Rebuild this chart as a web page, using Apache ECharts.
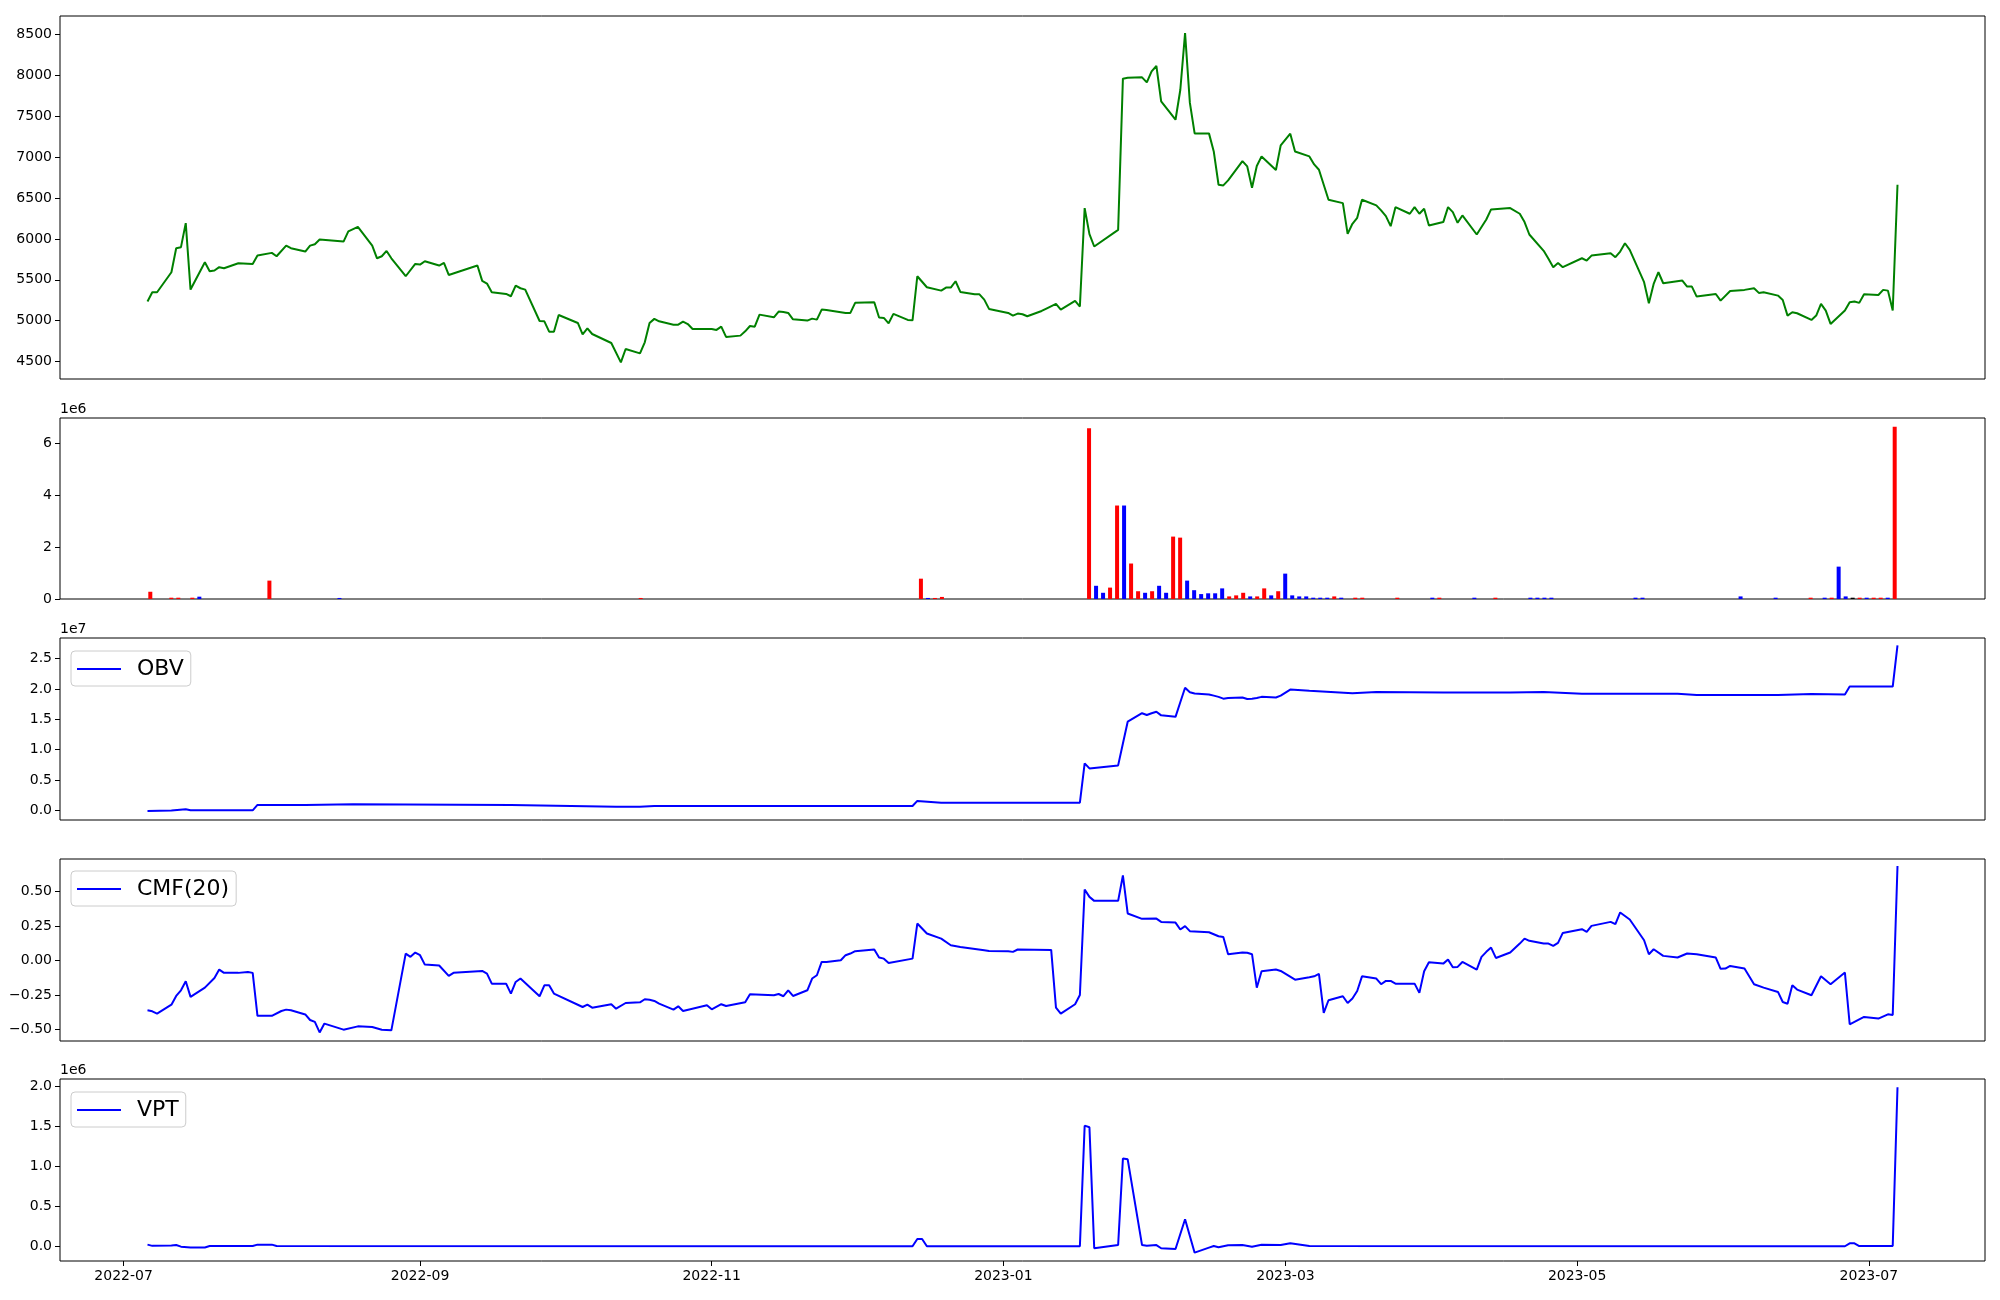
<!DOCTYPE html>
<html><head><meta charset="utf-8">
<script src="https://cdn.jsdelivr.net/npm/echarts@6/dist/echarts.min.js"></script>
<style>html,body{margin:0;padding:0;background:#fff}#c{width:2000px;height:1300px}</style>
</head><body><div id="c"></div>
<script>
// ---------- tick labels ----------
const xTickLabels = ['2022-07','2022-09','2022-11','2023-01','2023-03','2023-05','2023-07'];
const priceTicks = [4500,5000,5500,6000,6500,7000,7500,8000,8500];
const volTicks = [0,2e6,4e6,6e6];
const obvTicks = [0,0.5e7,1e7,1.5e7,2e7,2.5e7];
const cmfTicks = [-0.5,-0.25,0,0.25,0.5];
const vptTicks = [0,0.5e6,1e6,1.5e6,2e6];

// market holidays (KRX) inside the period; weekdays not in this list are trading days
const holidays = ['2022-08-15','2022-09-09','2022-09-12','2022-10-03','2022-10-10','2022-12-30','2023-01-23','2023-01-24','2023-03-01','2023-05-01','2023-05-05','2023-05-29','2023-06-06'];

// ---------- data ----------
const price = [['2022-07-06',5233],['2022-07-07',5347],['2022-07-08',5347],['2022-07-11',5592],['2022-07-12',5886],['2022-07-13',5899],['2022-07-14',6193],['2022-07-15',5380],['2022-07-18',5715],['2022-07-19',5605],['2022-07-20',5613],['2022-07-21',5654],['2022-07-22',5641],['2022-07-25',5702],['2022-07-28',5694],['2022-07-29',5796],['2022-08-01',5829],['2022-08-02',5788],['2022-08-04',5918],['2022-08-05',5886],['2022-08-08',5845],['2022-08-09',5918],['2022-08-10',5935],['2022-08-11',5992],['2022-08-16',5967],['2022-08-17',6093],['2022-08-19',6147],['2022-08-22',5918],['2022-08-23',5763],['2022-08-24',5788],['2022-08-25',5853],['2022-08-26',5763],['2022-08-29',5543],['2022-08-31',5694],['2022-09-01',5686],['2022-09-02',5727],['2022-09-05',5674],['2022-09-06',5706],['2022-09-07',5559],['2022-09-13',5674],['2022-09-14',5486],['2022-09-15',5453],['2022-09-16',5347],['2022-09-19',5326],['2022-09-20',5298],['2022-09-21',5428],['2022-09-22',5396],['2022-09-23',5379],['2022-09-26',4995],['2022-09-27',4991],['2022-09-28',4864],['2022-09-29',4864],['2022-09-30',5069],['2022-10-04',4971],['2022-10-05',4832],['2022-10-06',4906],['2022-10-07',4836],['2022-10-11',4726],['2022-10-13',4489],['2022-10-14',4652],['2022-10-17',4599],['2022-10-18',4734],['2022-10-19',4971],['2022-10-20',5021],['2022-10-21',4991],['2022-10-24',4950],['2022-10-25',4950],['2022-10-26',4987],['2022-10-27',4958],['2022-10-28',4897],['2022-10-31',4898],['2022-11-01',4898],['2022-11-02',4886],['2022-11-03',4926],['2022-11-04',4800],['2022-11-07',4816],['2022-11-08',4869],['2022-11-09',4934],['2022-11-10',4926],['2022-11-11',5073],['2022-11-14',5040],['2022-11-15',5110],['2022-11-16',5105],['2022-11-17',5094],['2022-11-18',5016],['2022-11-21',5000],['2022-11-22',5024],['2022-11-23',5012],['2022-11-24',5135],['2022-11-25',5131],['2022-11-29',5094],['2022-11-30',5094],['2022-12-01',5217],['2022-12-05',5225],['2022-12-06',5037],['2022-12-07',5033],['2022-12-08',4967],['2022-12-09',5082],['2022-12-12',5008],['2022-12-13',5004],['2022-12-14',5543],['2022-12-16',5408],['2022-12-19',5367],['2022-12-20',5404],['2022-12-21',5404],['2022-12-22',5482],['2022-12-23',5351],['2022-12-26',5322],['2022-12-27',5322],['2022-12-28',5257],['2022-12-29',5143],['2023-01-02',5094],['2023-01-03',5061],['2023-01-04',5086],['2023-01-05',5078],['2023-01-06',5053],['2023-01-09',5118],['2023-01-10',5147],['2023-01-12',5204],['2023-01-13',5135],['2023-01-16',5241],['2023-01-17',5172],['2023-01-18',6377],['2023-01-19',6058],['2023-01-20',5907],['2023-01-25',6111],['2023-01-26',7962],['2023-01-27',7974],['2023-01-30',7978],['2023-01-31',7917],['2023-02-01',8052],['2023-02-02',8117],['2023-02-03',7684],['2023-02-06',7459],['2023-02-07',7823],['2023-02-08',8520],['2023-02-09',7668],['2023-02-10',7292],['2023-02-13',7292],['2023-02-14',7071],['2023-02-15',6663],['2023-02-16',6655],['2023-02-17',6716],['2023-02-20',6953],['2023-02-21',6888],['2023-02-22',6627],['2023-02-23',6892],['2023-02-24',7010],['2023-02-27',6843],['2023-02-28',7145],['2023-03-02',7288],['2023-03-03',7071],['2023-03-06',7010],['2023-03-07',6912],['2023-03-08',6847],['2023-03-10',6479],['2023-03-13',6438],['2023-03-14',6062],['2023-03-15',6185],['2023-03-16',6258],['2023-03-17',6479],['2023-03-20',6410],['2023-03-21',6349],['2023-03-22',6279],['2023-03-23',6156],['2023-03-24',6389],['2023-03-27',6308],['2023-03-28',6389],['2023-03-29',6308],['2023-03-30',6369],['2023-03-31',6165],['2023-04-03',6206],['2023-04-04',6389],['2023-04-05',6328],['2023-04-06',6197],['2023-04-07',6287],['2023-04-10',6054],['2023-04-12',6238],['2023-04-13',6361],['2023-04-17',6377],['2023-04-19',6308],['2023-04-20',6206],['2023-04-21',6054],['2023-04-24',5854],['2023-04-25',5756],['2023-04-26',5654],['2023-04-27',5706],['2023-04-28',5654],['2023-05-02',5763],['2023-05-03',5735],['2023-05-04',5796],['2023-05-08',5825],['2023-05-09',5776],['2023-05-10',5845],['2023-05-11',5947],['2023-05-12',5866],['2023-05-15',5470],['2023-05-16',5213],['2023-05-17',5449],['2023-05-18',5592],['2023-05-19',5457],['2023-05-23',5490],['2023-05-24',5416],['2023-05-25',5416],['2023-05-26',5294],['2023-05-30',5326],['2023-05-31',5245],['2023-06-02',5363],['2023-06-05',5376],['2023-06-07',5396],['2023-06-08',5339],['2023-06-09',5347],['2023-06-12',5306],['2023-06-13',5253],['2023-06-14',5061],['2023-06-15',5102],['2023-06-16',5090],['2023-06-19',5008],['2023-06-20',5061],['2023-06-21',5204],['2023-06-22',5123],['2023-06-23',4959],['2023-06-26',5123],['2023-06-27',5225],['2023-06-28',5233],['2023-06-29',5217],['2023-06-30',5322],['2023-07-03',5314],['2023-07-04',5376],['2023-07-05',5367],['2023-07-06',5123],['2023-07-07',6663]];

// volume: [date, volume, colour code r=red b=blue k=black]; days not listed have no visible bar
const volume = [['2022-07-06',280000,'r'],['2022-07-11',50000,'r'],['2022-07-12',50000,'r'],['2022-07-14',50000,'r'],['2022-07-15',90000,'b'],['2022-07-29',710000,'r'],['2022-08-12',40000,'b'],['2022-10-19',40000,'r'],['2022-12-14',785000,'r'],['2022-12-15',40000,'b'],['2022-12-16',40000,'r'],['2022-12-19',80000,'r'],
['2023-01-18',6590000,'r'],['2023-01-19',510000,'b'],['2023-01-20',240000,'b'],['2023-01-25',440000,'r'],['2023-01-26',3610000,'r'],['2023-01-27',3610000,'b'],['2023-01-30',1370000,'r'],['2023-01-31',300000,'r'],['2023-02-01',240000,'b'],['2023-02-02',300000,'r'],['2023-02-03',510000,'b'],['2023-02-06',240000,'b'],['2023-02-07',2410000,'r'],['2023-02-08',2370000,'r'],['2023-02-09',710000,'b'],['2023-02-10',340000,'b'],['2023-02-13',190000,'b'],['2023-02-14',220000,'b'],['2023-02-15',220000,'b'],['2023-02-16',410000,'b'],['2023-02-17',100000,'r'],['2023-02-20',140000,'r'],['2023-02-21',240000,'r'],['2023-02-22',100000,'b'],['2023-02-23',100000,'r'],['2023-02-24',410000,'r'],['2023-02-27',140000,'b'],['2023-02-28',300000,'r'],['2023-03-02',980000,'b'],['2023-03-03',140000,'b'],['2023-03-06',100000,'b'],['2023-03-07',100000,'b'],['2023-03-08',50000,'b'],['2023-03-09',50000,'b'],['2023-03-10',50000,'b'],['2023-03-13',100000,'r'],['2023-03-14',50000,'b'],['2023-03-16',50000,'r'],['2023-03-17',50000,'r'],['2023-03-24',50000,'r'],['2023-03-31',50000,'b'],['2023-04-03',50000,'r'],['2023-04-10',50000,'b'],['2023-04-13',50000,'r'],['2023-04-20',50000,'b'],['2023-04-21',50000,'b'],['2023-04-24',50000,'b'],['2023-04-25',50000,'b'],['2023-05-15',50000,'b'],['2023-05-16',50000,'b'],['2023-06-07',100000,'b'],['2023-06-14',50000,'b'],['2023-06-21',50000,'r'],['2023-06-23',50000,'b'],['2023-06-26',50000,'r'],['2023-06-27',1250000,'b'],['2023-06-28',100000,'b'],['2023-06-29',50000,'k'],['2023-06-30',50000,'r'],['2023-07-03',50000,'b'],['2023-07-04',50000,'r'],['2023-07-05',50000,'r'],['2023-07-06',50000,'b'],['2023-07-07',6650000,'r']];

const obv = [['2022-07-06',-110000],['2022-07-11',-50000],['2022-07-14',160000],['2022-07-15',0],['2022-07-28',0],['2022-07-29',880000],['2022-08-08',880000],['2022-08-18',1000000],['2022-09-20',880000],['2022-10-12',600000],['2022-10-17',600000],['2022-10-20',700000],['2022-12-13',700000],['2022-12-14',1550000],['2022-12-19',1250000],['2023-01-17',1250000],['2023-01-18',7730000],['2023-01-19',6900000],['2023-01-25',7400000],['2023-01-26',11000000],['2023-01-27',14600000],['2023-01-30',16000000],['2023-01-31',15700000],['2023-02-01',16000000],['2023-02-02',16250000],['2023-02-03',15650000],['2023-02-06',15400000],['2023-02-07',17800000],['2023-02-08',20200000],['2023-02-09',19450000],['2023-02-10',19250000],['2023-02-13',19100000],['2023-02-14',18900000],['2023-02-15',18700000],['2023-02-16',18400000],['2023-02-17',18500000],['2023-02-20',18600000],['2023-02-21',18350000],['2023-02-22',18400000],['2023-02-23',18500000],['2023-02-24',18700000],['2023-02-27',18600000],['2023-02-28',18900000],['2023-03-02',19900000],['2023-03-06',19700000],['2023-03-15',19300000],['2023-03-20',19500000],['2023-04-03',19400000],['2023-04-17',19400000],['2023-04-24',19500000],['2023-05-02',19200000],['2023-05-22',19200000],['2023-05-26',19000000],['2023-06-12',19000000],['2023-06-19',19150000],['2023-06-26',19100000],['2023-06-27',20400000],['2023-07-06',20400000],['2023-07-07',27200000]];

const cmf = [['2022-07-06',-0.36],['2022-07-07',-0.367],['2022-07-08',-0.384],['2022-07-11',-0.319],['2022-07-12',-0.256],['2022-07-13',-0.215],['2022-07-14',-0.15],['2022-07-15',-0.263],['2022-07-18',-0.196],['2022-07-20',-0.126],['2022-07-21',-0.065],['2022-07-22',-0.089],['2022-07-25',-0.089],['2022-07-27',-0.082],['2022-07-28',-0.089],['2022-07-29',-0.40],['2022-08-01',-0.40],['2022-08-03',-0.365],['2022-08-04',-0.355],['2022-08-05',-0.36],['2022-08-08',-0.39],['2022-08-09',-0.43],['2022-08-10',-0.444],['2022-08-11',-0.52],['2022-08-12',-0.456],['2022-08-16',-0.50],['2022-08-19',-0.476],['2022-08-22',-0.481],['2022-08-24',-0.50],['2022-08-26',-0.505],['2022-08-29',0.05],['2022-08-30',0.027],['2022-08-31',0.058],['2022-09-01',0.039],['2022-09-02',-0.029],['2022-09-05',-0.036],['2022-09-07',-0.111],['2022-09-08',-0.089],['2022-09-14',-0.075],['2022-09-15',-0.094],['2022-09-16',-0.167],['2022-09-19',-0.167],['2022-09-20',-0.239],['2022-09-21',-0.155],['2022-09-22',-0.13],['2022-09-26',-0.258],['2022-09-27',-0.179],['2022-09-28',-0.179],['2022-09-29',-0.239],['2022-10-05',-0.336],['2022-10-06',-0.319],['2022-10-07',-0.341],['2022-10-11',-0.316],['2022-10-12',-0.348],['2022-10-14',-0.307],['2022-10-17',-0.302],['2022-10-18',-0.28],['2022-10-19',-0.283],['2022-10-20',-0.292],['2022-10-21',-0.312],['2022-10-24',-0.355],['2022-10-25',-0.331],['2022-10-26',-0.365],['2022-10-31',-0.324],['2022-11-01',-0.353],['2022-11-03',-0.316],['2022-11-04',-0.329],['2022-11-08',-0.302],['2022-11-09',-0.244],['2022-11-14',-0.251],['2022-11-15',-0.242],['2022-11-16',-0.258],['2022-11-17',-0.215],['2022-11-18',-0.256],['2022-11-21',-0.215],['2022-11-22',-0.13],['2022-11-23',-0.106],['2022-11-24',-0.01],['2022-11-25',-0.01],['2022-11-28',0.002],['2022-11-29',0.039],['2022-11-30',0.051],['2022-12-01',0.068],['2022-12-05',0.08],['2022-12-06',0.022],['2022-12-07',0.014],['2022-12-08',-0.017],['2022-12-13',0.014],['2022-12-14',0.268],['2022-12-16',0.196],['2022-12-19',0.159],['2022-12-21',0.111],['2022-12-23',0.099],['2022-12-28',0.075],['2022-12-29',0.07],['2023-01-02',0.068],['2023-01-03',0.063],['2023-01-04',0.08],['2023-01-11',0.077],['2023-01-12',-0.341],['2023-01-13',-0.384],['2023-01-16',-0.316],['2023-01-17',-0.249],['2023-01-18',0.514],['2023-01-19',0.461],['2023-01-20',0.432],['2023-01-25',0.432],['2023-01-26',0.616],['2023-01-27',0.341],['2023-01-30',0.302],['2023-02-02',0.304],['2023-02-03',0.28],['2023-02-06',0.275],['2023-02-07',0.225],['2023-02-08',0.249],['2023-02-09',0.213],['2023-02-13',0.205],['2023-02-15',0.176],['2023-02-16',0.17],['2023-02-17',0.046],['2023-02-20',0.058],['2023-02-21',0.056],['2023-02-22',0.046],['2023-02-23',-0.196],['2023-02-24',-0.077],['2023-02-27',-0.065],['2023-02-28',-0.075],['2023-03-03',-0.138],['2023-03-06',-0.121],['2023-03-07',-0.114],['2023-03-08',-0.097],['2023-03-09',-0.379],['2023-03-10',-0.287],['2023-03-13',-0.258],['2023-03-14',-0.307],['2023-03-15',-0.275],['2023-03-16',-0.22],['2023-03-17',-0.114],['2023-03-20',-0.13],['2023-03-21',-0.171],['2023-03-22',-0.147],['2023-03-23',-0.147],['2023-03-24',-0.167],['2023-03-28',-0.167],['2023-03-29',-0.234],['2023-03-30',-0.077],['2023-03-31',-0.012],['2023-04-03',-0.022],['2023-04-04',0.007],['2023-04-05',-0.048],['2023-04-06',-0.046],['2023-04-07',-0.01],['2023-04-10',-0.065],['2023-04-11',0.027],['2023-04-12',0.063],['2023-04-13',0.094],['2023-04-14',0.019],['2023-04-17',0.058],['2023-04-19',0.123],['2023-04-20',0.159],['2023-04-21',0.143],['2023-04-24',0.123],['2023-04-25',0.123],['2023-04-26',0.106],['2023-04-27',0.128],['2023-04-28',0.2],['2023-05-02',0.227],['2023-05-03',0.208],['2023-05-04',0.251],['2023-05-08',0.28],['2023-05-09',0.263],['2023-05-10',0.348],['2023-05-12',0.297],['2023-05-15',0.147],['2023-05-16',0.046],['2023-05-17',0.082],['2023-05-19',0.034],['2023-05-22',0.022],['2023-05-24',0.051],['2023-05-26',0.046],['2023-05-30',0.022],['2023-05-31',-0.06],['2023-06-01',-0.058],['2023-06-02',-0.039],['2023-06-05',-0.058],['2023-06-07',-0.171],['2023-06-09',-0.196],['2023-06-12',-0.227],['2023-06-13',-0.3],['2023-06-14',-0.312],['2023-06-15',-0.179],['2023-06-16',-0.21],['2023-06-19',-0.251],['2023-06-21',-0.114],['2023-06-23',-0.171],['2023-06-26',-0.087],['2023-06-27',-0.461],['2023-06-30',-0.408],['2023-07-03',-0.42],['2023-07-05',-0.389],['2023-07-06',-0.394],['2023-07-07',0.684]];

const vpt = [['2022-07-06',25000],['2022-07-07',10000],['2022-07-11',15000],['2022-07-12',20000],['2022-07-13',0],['2022-07-15',-10000],['2022-07-18',-10000],['2022-07-19',8000],['2022-07-28',8000],['2022-07-29',25000],['2022-08-01',25000],['2022-08-02',8000],['2022-12-13',5000],['2022-12-14',95000],['2022-12-15',95000],['2022-12-16',5000],['2023-01-17',5000],['2023-01-18',1510000],['2023-01-19',1490000],['2023-01-20',-20000],['2023-01-25',20000],['2023-01-26',1100000],['2023-01-27',1090000],['2023-01-30',20000],['2023-01-31',12000],['2023-02-02',20000],['2023-02-03',-20000],['2023-02-06',-30000],['2023-02-08',342000],['2023-02-10',-75000],['2023-02-13',-12000],['2023-02-14',8000],['2023-02-15',-8000],['2023-02-17',17000],['2023-02-20',20000],['2023-02-22',0],['2023-02-24',25000],['2023-02-28',20000],['2023-03-02',42000],['2023-03-06',8000],['2023-06-26',5000],['2023-06-27',42000],['2023-06-28',42000],['2023-06-29',8000],['2023-07-06',8000],['2023-07-07',1990000]];

// ---------- helpers ----------
const tp = s => { const a = s.split('-').map(Number); return new Date(a[0], a[1]-1, a[2]||1).getTime(); };
const ds = d => d.getFullYear() + '-' + String(d.getMonth()+1).padStart(2,'0') + '-' + String(d.getDate()).padStart(2,'0');
const toPts = arr => arr.map(p => [tp(p[0]), p[1]]);
const first = tp(price[0][0]), last = tp(price[price.length-1][0]);
const pad = (last - first) * 0.05;
const xMin = first - pad, xMax = last + pad;
const xTickVals = xTickLabels.map(tp);
const minus = s => s.replace('-', '\u2212');
const fmtMonth = v => { const d = new Date(v); return d.getFullYear() + '-' + String(d.getMonth()+1).padStart(2,'0'); };
const colorMap = {r:'#ff0000', b:'#0000ff', k:'#000000'};
const FONT = 'DejaVu Sans';

// trading-day sequence: the volume panel places bars by their position in it
const tradingDays = [];
for (let d = new Date(first); d.getTime() <= last; d.setDate(d.getDate() + 1)) {
  const wd = d.getDay();
  const s = ds(d);
  if (wd !== 0 && wd !== 6 && holidays.indexOf(s) < 0) tradingDays.push(s);
}
const NV = tradingDays.length;
const volMin = -0.4 - 0.05 * (NV - 0.2), volMax = NV - 1 + 0.4 + 0.05 * (NV - 0.2);

const gridTops = [16, 418, 638, 859, 1079];
const gridHeights = [363, 181, 182, 182, 182];
const grid = gridTops.map((t,i) => ({left:60, right:15, top:t, height:gridHeights[i], show:true, borderColor:'#000', borderWidth:1, backgroundColor:'transparent'}));

const xAxis = gridTops.map((t,i) => ({
  type:'value', gridIndex:i, min: i===1 ? volMin : xMin, max: i===1 ? volMax : xMax, scale:true,
  axisLine:{show:false, onZero:false}, splitLine:{show:false},
  axisTick:{show:i===4, customValues:xTickVals, length:5, lineStyle:{color:'#000', width:1}},
  axisLabel:{show:i===4, customValues:xTickVals, formatter:fmtMonth, fontFamily:FONT, fontSize:14, color:'#000', margin:8}
}));
xAxis[1].axisTick = {show:false};
xAxis[1].axisLabel = {show:false};

function yAx(i, min, max, ticks, fmt, name) {
  return {
    type:'value', gridIndex:i, min:min, max:max, scale:true,
    axisLine:{show:false, onZero:false}, splitLine:{show:false},
    axisTick:{show:true, customValues:ticks, length:5, lineStyle:{color:'#000', width:1}},
    axisLabel:{customValues:ticks, formatter:v => minus(fmt(v)), fontFamily:FONT, fontSize:14, color:'#000', margin:8},
    name: name || '', nameLocation:'end', nameGap:2,
    nameTextStyle:{align:'left', verticalAlign:'bottom', fontFamily:FONT, fontSize:14, color:'#000'}
  };
}
const yAxis = [
  yAx(0, 4285, 8729, priceTicks, v => String(Math.round(v))),
  yAx(1, 0, 6.99e6, volTicks, v => String(Math.round(v/1e6)), '1e6'),
  yAx(2, -0.16e7, 2.84e7, obvTicks, v => (v/1e7).toFixed(1), '1e7'),
  yAx(3, -0.582, 0.735, cmfTicks, v => v.toFixed(2)),
  yAx(4, -0.179e6, 2.0925e6, vptTicks, v => (v/1e6).toFixed(1), '1e6')
];

function legendAt(top, name) {
  return {
    data:[name], left:71, top:top, orient:'horizontal',
    icon:'rect', itemWidth:44, itemHeight:2,
    padding:[7,7,6,6], borderColor:'#cccccc', borderWidth:1, borderRadius:4,
    backgroundColor:'rgba(255,255,255,0.8)',
    textStyle:{fontFamily:FONT, fontSize:22, color:'#000', padding:[0,0,0,11]},
    selectedMode:false
  };
}

const lineStyleBlue = {color:'#0000ff', width:2};
const volData = volume
  .map(p => ({value:[tradingDays.indexOf(p[0]), p[1]], itemStyle:{color:colorMap[p[2]]}}))
  .filter(o => o.value[0] >= 0);

const option = {
  animation:false,
  backgroundColor:'#ffffff',
  grid: grid,
  xAxis: xAxis,
  yAxis: yAxis,
  legend: [legendAt(651,'OBV'), legendAt(871,'CMF(20)'), legendAt(1092,'VPT')],
  series: [
    {type:'line', name:'Close', xAxisIndex:0, yAxisIndex:0, data:toPts(price), symbol:'none', color:'#008000', lineStyle:{color:'#008000', width:2}},
    {type:'bar', name:'Volume', xAxisIndex:1, yAxisIndex:1, barWidth:4, data: volData},
    {type:'line', name:'OBV', xAxisIndex:2, yAxisIndex:2, data:toPts(obv), symbol:'none', color:'#0000ff', lineStyle:lineStyleBlue},
    {type:'line', name:'CMF(20)', xAxisIndex:3, yAxisIndex:3, data:toPts(cmf), symbol:'none', color:'#0000ff', lineStyle:lineStyleBlue},
    {type:'line', name:'VPT', xAxisIndex:4, yAxisIndex:4, data:toPts(vpt), symbol:'none', color:'#0000ff', lineStyle:lineStyleBlue}
  ]
};
const chart = echarts.init(document.getElementById('c'), null, {renderer:'canvas'});
chart.setOption(option);
</script>
</body></html>
